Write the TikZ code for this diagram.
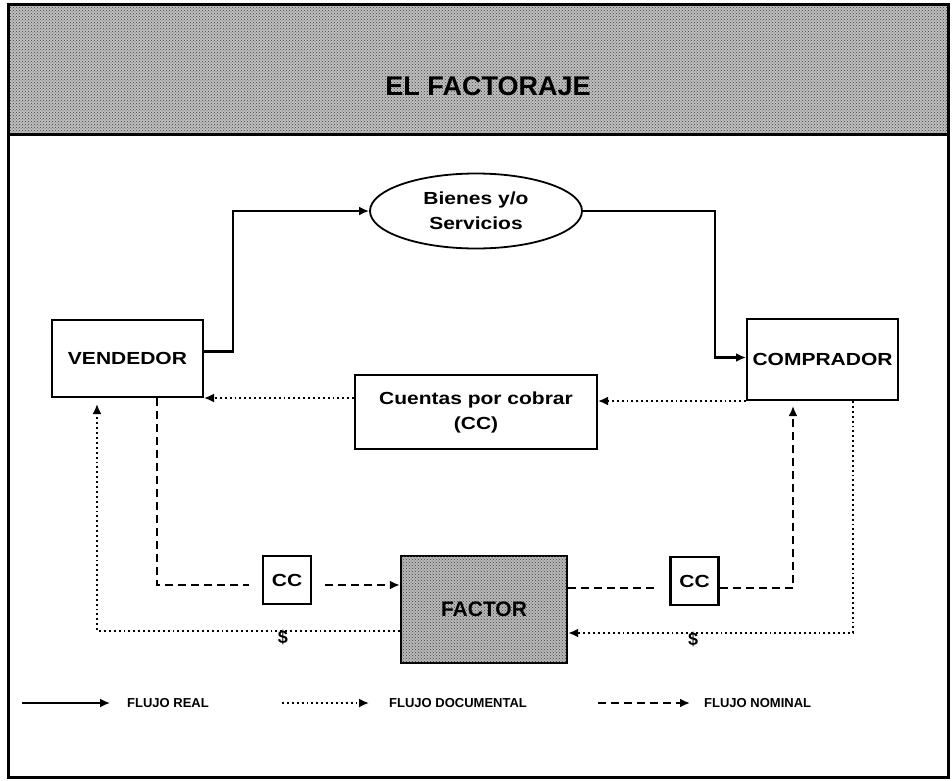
\documentclass[tikz,border=0pt]{standalone}
\usepackage{fontspec}
\setmainfont{Liberation Sans}
\newfontfamily\widefont[FakeStretch=1.2]{Liberation Sans}
\usetikzlibrary{shapes.geometric,arrows.meta,patterns,calc}
\tikzset{
  box/.style={draw,line width=2pt,fill=white,inner sep=0pt,font=\widefont\bfseries\fontsize{17.5}{25}\selectfont,align=center},
  ccbox/.style={draw,line width=2.4pt,fill=white,inner sep=0pt,minimum width=48pt,minimum height=48pt,font=\widefont\bfseries\fontsize{17.5}{20}\selectfont},
  real/.style={line width=2.2pt,-{Latex[length=10pt,width=9pt]}},
  doc/.style={line width=1.9pt,dash pattern=on 1.9pt off 3pt,-{Latex[length=10pt,width=9pt]}},
  nom/.style={line width=2.3pt,dash pattern=on 8pt off 5pt,-{Latex[length=10pt,width=9pt]}},
  plain/.style={line width=2.3pt,dash pattern=on 8pt off 5pt},
  lbl/.style={font=\bfseries\fontsize{18}{18}\selectfont,inner sep=0pt},
  legtxt/.style={font=\bfseries\fontsize{13}{13}\selectfont,anchor=west,inner sep=0pt},
  texture/.style={pattern=crosshatch dots,pattern color=black!75}
}
\begin{document}
\begin{tikzpicture}[x=1pt,y=-1pt]
\useasboundingbox (0,0) rectangle (952,780);
\fill[white] (0,0) rectangle (952,780);
% header
\fill[gray!50] (8,4) rectangle (948,134);
\fill[texture] (8,4) rectangle (948,134);
\draw[line width=3pt] (8,4) rectangle (948,777);
\draw[line width=3pt] (8,134) -- (948,134);
\node[font=\bfseries\fontsize{27}{27}\selectfont,inner sep=0pt] (title) at (488,86) {EL FACTORAJE};
% nodes
\node[box,minimum width=151pt,minimum height=77pt] (vend) at (127.5,358.5) {VENDEDOR};
\node[box,minimum width=151pt,minimum height=81pt] (comp) at (822.5,359.5) {COMPRADOR};
\node[box,ellipse,minimum width=212pt,minimum height=75pt,line width=1.8pt] (ell) at (476,211) {Bienes y/o\\Servicios};
\node[box,minimum width=242pt,minimum height=74pt] (cuen) at (476,412) {Cuentas por cobrar\\(CC)};
\node[ccbox] (cc1) at (287,580) {CC};
\node[ccbox] (cc2) at (694.5,581) {CC};
\node[draw,line width=2.4pt,fill=gray!55,postaction={texture},minimum width=166pt,minimum height=107pt,inner sep=0pt,font=\bfseries\fontsize{21}{21}\selectfont] (fact) at (484,609.5) {FACTOR};
% real flow
\coordinate (a1) at (233,211);
\draw[real] ([yshift=7pt]vend.east) -| (a1) -- (ell.west);
\coordinate (a2) at (715,211);
\draw[real] (ell.east) -- (a2) |- ([yshift=2pt]comp.west);
% documentary flow
\draw[doc] (comp.south west) -- (comp.south west -| cuen.east);
\draw[doc] (cuen.west |- vend.south) -- (vend.south east);
\coordinate (d1) at (97,631);
\draw[doc,shorten >=6pt] (fact.west |- d1) -- (d1) -- (d1 |- vend.south);
\node[lbl] (dl1) at (283,637) {\$};
\coordinate (d2) at (853,633);
\draw[doc] (d2 |- comp.south) -- (d2) -- (d2 -| fact.east);
\node[lbl] (dl2) at (693,639) {\$};
% nominal flow
\coordinate (n1) at (157,585);
\draw[plain,shorten >=13pt] (n1 |- vend.south) -- (n1) -- (n1 -| cc1.west);
\draw[nom,shorten <=13pt] (cc1.east |- n1) -- (fact.west |- n1);
\coordinate (n2) at (793,588);
\draw[plain,shorten >=13pt] (fact.east |- n2) -- (cc2.west |- n2);
\draw[nom,shorten >=5pt] (cc2.east |- n2) -- (n2) -- (n2 |- comp.south);
% legend
\coordinate (l1a) at (22,703); \coordinate (l1b) at (110,703);
\draw[real,line width=1.8pt] (l1a) -- (l1b);
\node[legtxt] (lt1) at (127,703) {FLUJO REAL};
\coordinate (l2a) at (282,703); \coordinate (l2b) at (369,703);
\draw[doc] (l2a) -- (l2b);
\node[legtxt] (lt2) at (389,703) {FLUJO DOCUMENTAL};
\coordinate (l3a) at (598,703); \coordinate (l3b) at (690,703);
\draw[nom] (l3a) -- (l3b);
\node[legtxt] (lt3) at (704,703) {FLUJO NOMINAL};
\end{tikzpicture}
\end{document}
